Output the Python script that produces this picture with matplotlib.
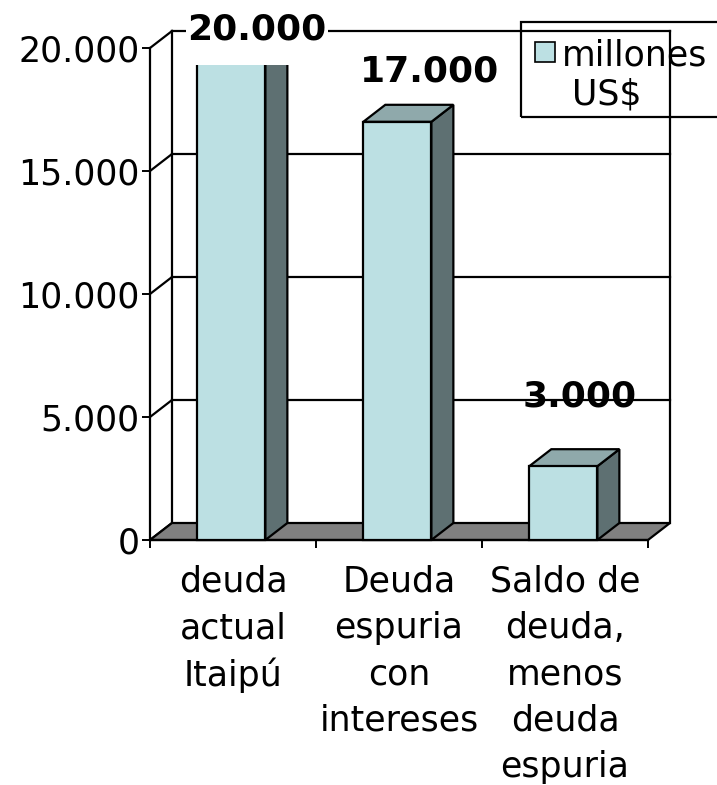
import matplotlib
matplotlib.use("Agg")
import matplotlib.pyplot as plt
from matplotlib.patches import Polygon, Rectangle

# ---- data ----
categories = ["deuda\nactual\nItaipú",
              "Deuda\nespuria\ncon\nintereses",
              "Saldo de\ndeuda,\nmenos\ndeuda\nespuria"]
values = [20000, 17000, 3000]
value_labels = ["20.000", "17.000", "3.000"]
y_ticks = [0, 5000, 10000, 15000, 20000]
y_tick_labels = ["0", "5.000", "10.000", "15.000", "20.000"]
series_name = "millones US$"

# ---- style ----
W, H = 717, 785
FRONT = "#BCE0E3"
SIDE = "#5E7072"
TOP = "#8FA9AB"
FLOOR = "#808080"
LW = 1.6
FS = 25
plt.rcParams['font.family'] = ['DejaVu Sans']

fig = plt.figure(figsize=(W / 100, H / 100), dpi=100)
ax = fig.add_axes([150 / W, 1 - 540 / H, 498 / W, 492 / H])
ax.patch.set_visible(False)
YMAX = y_ticks[-1]
x0, x1 = -0.5, len(categories) - 0.5
ax.set_xlim(x0, x1)
ax.set_ylim(0, YMAX)

DX = 22 / 166          # depth offset in category units
DY = 17 / 492 * YMAX   # depth offset in value units
BW = 0.41              # bar width
BOFF = -0.01

# walls and gridlines
for t in y_ticks:
    ax.plot([x0, x0 + DX], [t, t + DY], color='k', lw=LW, clip_on=False, zorder=1)
    if t > 0:
        ax.plot([x0 + DX, x1 + DX], [t + DY, t + DY], color='k', lw=LW,
                clip_on=False, zorder=1)
ax.plot([x0 + DX] * 2, [DY, YMAX + DY], color='k', lw=LW, clip_on=False, zorder=1)
ax.plot([x1 + DX] * 2, [DY, YMAX + DY], color='k', lw=LW, clip_on=False, zorder=1)
floor = Polygon([(x0, 0), (x1, 0), (x1 + DX, DY), (x0 + DX, DY)], closed=True,
                fc=FLOOR, ec='k', lw=LW, clip_on=False, zorder=1.5)
ax.add_patch(floor)

# clip region: bars cut at the back-wall top level seen from the front
clip = Rectangle((x0 - 1, -YMAX), 10, 2 * YMAX - DY, transform=ax.transData)

for i, v in enumerate(values):
    l = i + BOFF - BW / 2
    r = i + BOFF + BW / 2
    front = Rectangle((l, 0), BW, v, fc=FRONT, ec='k', lw=LW, zorder=3)
    side = Polygon([(r, 0), (r + DX, DY), (r + DX, v + DY), (r, v)], closed=True,
                   fc=SIDE, ec='k', lw=LW, zorder=3)
    top = Polygon([(l, v), (r, v), (r + DX, v + DY), (l + DX, v + DY)], closed=True,
                  fc=TOP, ec='k', lw=LW, zorder=3)
    for p in (side, top, front):
        ax.add_patch(p)
        p.set_clip_on(True)
        p.set_clip_path(clip)

# value labels
label_offsets_px = [(24, 19), (31, 50), (15, 70)]
for i, (v, txt) in enumerate(zip(values, value_labels)):
    vv = min(v, YMAX)
    bbox = dict(fc='white', ec='none', pad=1) if i == 0 else None
    ax.annotate(txt, xy=(i, vv), xytext=label_offsets_px[i], textcoords='offset pixels',
                ha='center', va='center', fontsize=26, fontweight='bold',
                bbox=bbox, zorder=6, annotation_clip=False)

# axes / ticks
for s in ('top', 'right'):
    ax.spines[s].set_visible(False)
for s in ('left', 'bottom'):
    ax.spines[s].set_linewidth(LW)
ax.set_yticks(y_ticks, labels=y_tick_labels)
ax.set_xticks([x0 + k for k in range(len(categories) + 1)], labels=[''] * (len(categories) + 1))
ax.set_xticks(range(len(categories)), labels=categories, minor=True)
ax.tick_params(axis='y', length=5.8, width=1.4, pad=1.5, labelsize=FS)
ax.tick_params(axis='x', which='major', length=5.8, width=1.4)
ax.tick_params(axis='x', which='minor', length=0, pad=18, labelsize=FS)
for lab in ax.get_xticklabels(minor=True):
    lab.set_linespacing(1.45)

# legend (manual, extends past figure edge)
def fx(x):
    return x / W

def fy(y):
    return 1 - y / H

fig.patches.append(Rectangle((fx(521), fy(117)), fx(740) - fx(521), fy(22) - fy(117),
                             transform=fig.transFigure, fill=False, ec='k', lw=LW))
fig.patches.append(Rectangle((fx(535), fy(62)), fx(555) - fx(535), fy(42) - fy(62),
                             transform=fig.transFigure, fc=FRONT, ec='k', lw=1.2))
w1, w2 = series_name.split(" ")
fig.text(fx(562), fy(66), w1, fontsize=FS, ha='left', va='baseline')
fig.text(fx(572), fy(105), w2, fontsize=FS, ha='left', va='baseline')

fig.savefig("out.png", dpi=100)
